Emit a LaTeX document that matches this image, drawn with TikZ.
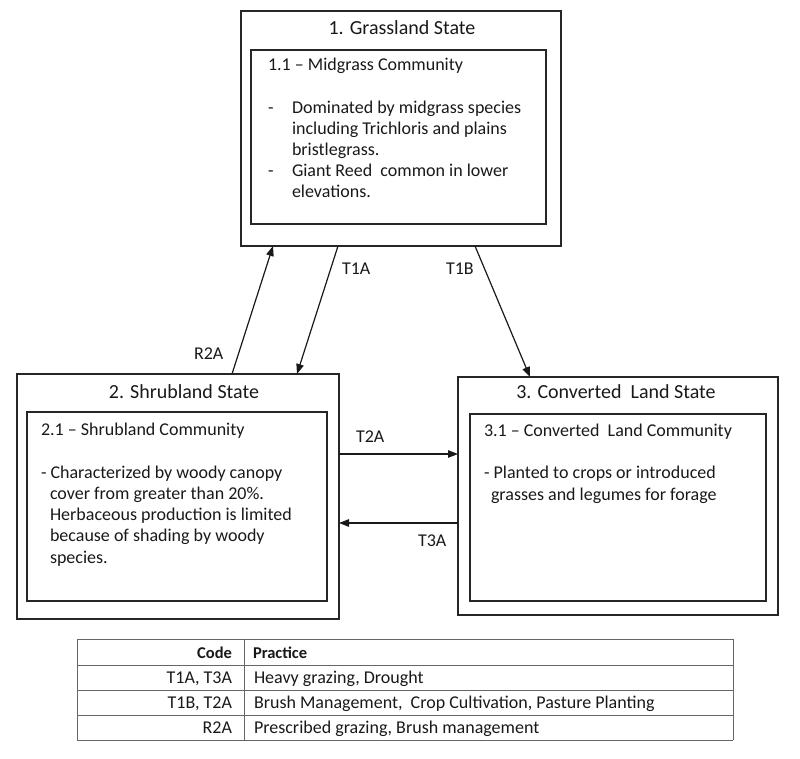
\documentclass[tikz,border=0pt]{standalone}
\usepackage{fontspec}
\setmainfont{Carlito}
\usetikzlibrary{arrows.meta,calc}
\tikzset{
  box/.style={draw=black!85, line width=1.3pt, rectangle, inner sep=0pt, outer sep=0pt},
  ln/.style={anchor=base west, inner sep=0pt, outer sep=0pt, font=\fontsize{18}{21}\selectfont, text=black!90},
  ttl/.style={ln, anchor=base, font=\fontsize{20}{24}\selectfont},
  tb/.style={ln, font=\fontsize{18}{21}\selectfont},
  tbe/.style={tb, anchor=base east},
  th/.style={ln, font=\fontsize{16.5}{20}\selectfont\bfseries},
  the/.style={th, anchor=base east},
  arr/.style={draw=black!90, line width=1.2pt, -{Triangle[length=10pt,width=7.5pt]}},
  tline/.style={draw=black!60, line width=1pt}
}
\begin{document}
\begin{tikzpicture}[x=1pt,y=-1pt]
\useasboundingbox (0,0) rectangle (800,759);
% boxes
\node[box, minimum width=320pt, minimum height=235pt] (g1) at (401,128.5) {};
\node[box, minimum width=295pt, minimum height=174pt] (g1i) at (398.5,137) {};
\node[box, minimum width=322pt, minimum height=245pt] (s2) at (178,496.5) {};
\node[box, minimum width=300pt, minimum height=189pt] (s2i) at (177,506.5) {};
\node[box, minimum width=320pt, minimum height=238pt] (c3) at (618,496) {};
\node[box, minimum width=296pt, minimum height=187pt] (c3i) at (618,507.5) {};
% state 1 texts
\node[ttl] (g1t) at (402,35) {1. Grassland State};
\node[ln] (g1h) at (268,71) {1.1 – Midgrass Community};
\node[ln] (g1b1) at (268,114) {-};
\node[ln] (g1l1) at (292,114) {Dominated by midgrass species};
\node[ln] (g1l2) at (292,135) {including Trichloris and plains};
\node[ln] (g1l3) at (292,156) {bristlegrass.};
\node[ln] (g1b2) at (268,177) {-};
\node[ln] (g1l4) at (292,177) {Giant Reed\ \ common in lower};
\node[ln] (g1l5) at (292,198) {elevations.};
% state 2 texts
\node[ttl] (s2t) at (184,398) {2. Shrubland State};
\node[ln] (s2h) at (41,435) {2.1 – Shrubland Community};
\node[ln] (s2l1) at (41,478) {- Characterized by woody canopy};
\node[ln] (s2l2) at (50,499) {cover from greater than 20\%.};
\node[ln] (s2l3) at (50,520.5) {Herbaceous production is limited};
\node[ln] (s2l4) at (50,541.5) {because of shading by woody};
\node[ln] (s2l5) at (50,563) {species.};
% state 3 texts
\node[ttl] (c3t) at (616,398) {3. Converted\ \ Land State};
\node[ln] (c3h) at (484,436) {3.1 – Converted\ \ Land Community};
\node[ln] (c3l1) at (484,478) {- Planted to crops or introduced};
\node[ln] (c3l2) at (491,500) {grasses and legumes for forage};
% arrows
\draw[arr] ($(s2.north west)+(215,0)$) -- ($(g1.south west)+(32,0)$);
\draw[arr] ($(g1.south west)+(97,0)$) -- ($(s2.north west)+(280,0)$);
\draw[arr] ($(g1.south west)+(234,0)$) -- ($(c3.north west)+(72,0)$);
\draw[arr] ($(s2.north east)+(0,80)$) -- ($(c3.north west)+(0,77)$);
\draw[arr] ($(c3.north west)+(0,146)$) -- ($(s2.north east)+(0,149)$);
% arrow labels
\node[ln] (lr2a) at (194,359) {R2A};
\node[ln] (lt1a) at (342,274) {T1A};
\node[ln] (lt1b) at (446,274) {T1B};
\node[ln] (lt2a) at (356,442) {T2A};
\node[ln] (lt3a) at (418,546) {T3A};
% table
\foreach \yy in {639,665,690,715,740} \draw[tline] (77,\yy) -- (733,\yy);
\draw[tline] (77,639) -- (77,740);
\draw[tline] (244,639) -- (244,740);
\draw[tline] (733,639) -- (733,740);
\node[the] (tc0) at (232,658) {Code};
\node[th] (tp0) at (253,658) {Practice};
\node[tbe] (tc1) at (232,683) {T1A, T3A};
\node[tb] (tp1) at (254,683) {Heavy grazing, Drought};
\node[tbe] (tc2) at (232,708) {T1B, T2A};
\node[tb] (tp2) at (254,708) {Brush Management,\ \ Crop Cultivation, Pasture Planting};
\node[tbe] (tc3) at (232,733) {R2A};
\node[tb] (tp3) at (254,733) {Prescribed grazing, Brush management};
\end{tikzpicture}
\end{document}
